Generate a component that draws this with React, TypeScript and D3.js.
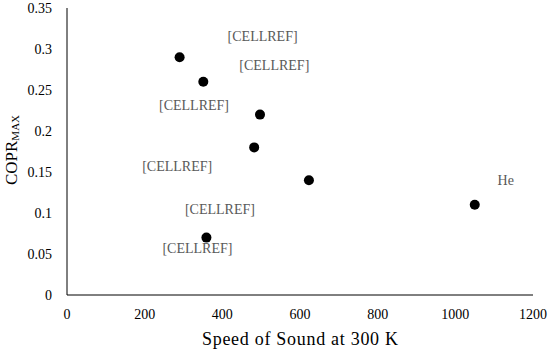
import React from 'react';
import * as d3 from 'd3';

// gas data: speed of sound at 300 K vs max COPR
const labels = ['[CELLREF]', '[CELLREF]', '[CELLREF]', '[CELLREF]', '[CELLREF]', '[CELLREF]', 'He'];
const speeds = [290, 351, 497, 482, 623, 359, 1050];
const coprs = [0.29, 0.26, 0.22, 0.18, 0.14, 0.07, 0.11];
const xTicks = [0, 200, 400, 600, 800, 1000, 1200];
const yTicks = [0, 0.05, 0.1, 0.15, 0.2, 0.25, 0.3, 0.35];

// label offsets (px) from each point, as placed in the original
const labelDx = [83, 71, -66, -77, -89, -9, 31];
const labelDy = [-21, -16, -9, 19, 29, 11, -24];

export default function App() {
  const w = 550;
  const h = 352;
  const left = 67;
  const right = 533;
  const top = 8;
  const bottom = 295;

  const x = d3.scaleLinear().domain([0, 1200]).range([left, right]);
  const y = d3.scaleLinear().domain([0, 0.35]).range([bottom, top]);
  const font = '"Liberation Serif", serif';

  return (
    <svg width={w} height={h} style={{ position: 'absolute', left: 0, top: 0 }} fontFamily={font}>
      <rect width={w} height={h} fill="white" />
      <line x1={left} x2={left} y1={top} y2={bottom} stroke="#000" strokeWidth={1} />
      <line x1={left} x2={right} y1={bottom} y2={bottom} stroke="#000" strokeWidth={1} />

      {yTicks.map((t) => (
        <text key={'y' + t} x={52} y={y(t)} textAnchor="end" dominantBaseline="central" fontSize={14} fill="#000">
          {d3.format('')(+t.toFixed(2))}
        </text>
      ))}
      {xTicks.map((t) => (
        <text key={'x' + t} x={x(t)} y={314} textAnchor="middle" dominantBaseline="central" fontSize={14} fill="#000">
          {t}
        </text>
      ))}

      <text x={300} y={339} textAnchor="middle" dominantBaseline="central" fontSize={18} fill="#000"
        textLength={196} lengthAdjust="spacing">
        Speed of Sound at 300 K
      </text>
      <text transform={`translate(11, 150) rotate(-90)`} textAnchor="middle" dominantBaseline="central" fontSize={17} fill="#000">
        COPR<tspan fontSize={11} dy={4}>MAX</tspan>
      </text>

      {speeds.map((s, i) => (
        <circle key={'p' + i} cx={x(s)} cy={y(coprs[i])} r={5} fill="#000" />
      ))}
      {speeds.map((s, i) => (
        <text
          key={'l' + i}
          x={x(s) + labelDx[i]}
          y={y(coprs[i]) + labelDy[i]}
          textAnchor="middle"
          dominantBaseline="central"
          fontSize={14}
          fill="#595959"
        >
          {labels[i]}
        </text>
      ))}
    </svg>
  );
}
